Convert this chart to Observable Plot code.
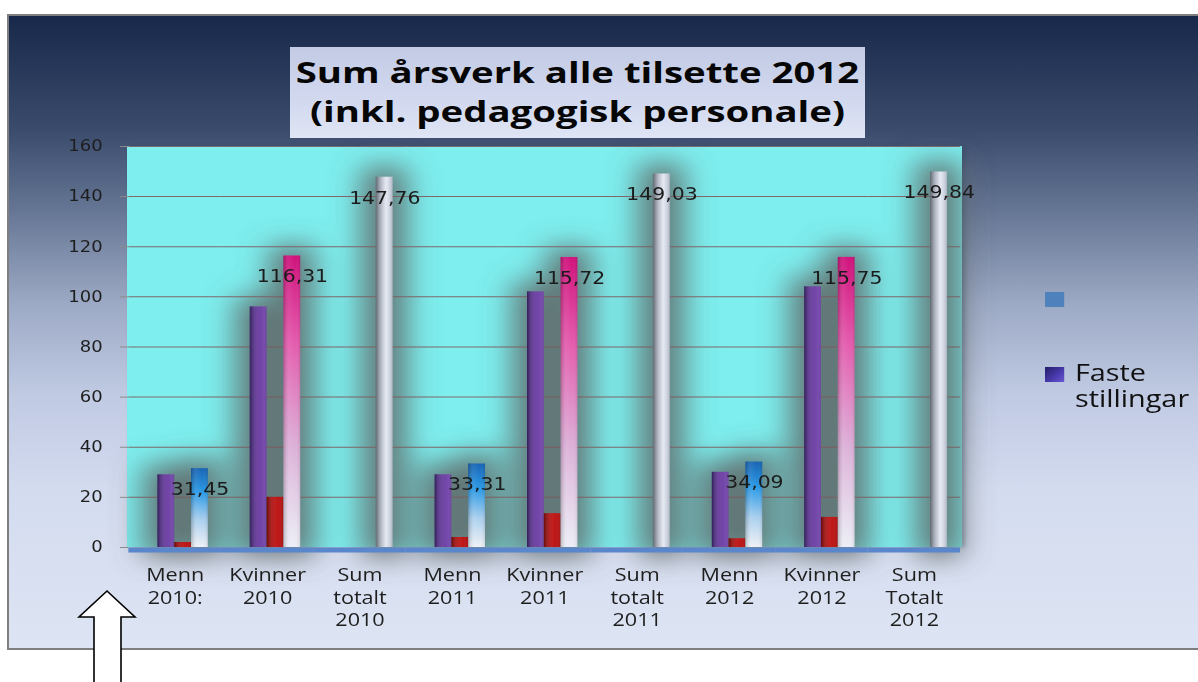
<!DOCTYPE html>
<html>
<head>
<meta charset="utf-8">
<script src="https://cdn.jsdelivr.net/npm/d3@7"></script>
<script src="https://cdn.jsdelivr.net/npm/@observablehq/plot@0.6"></script>
<style>
  html, body { margin: 0; padding: 0; background: #ffffff; width: 1198px; height: 682px; overflow: hidden; }
  #frame { position: absolute; left: 7px; top: 14px; width: 1200px; height: 632px;
    border: 2px solid #7f7f7f;
    background: linear-gradient(to bottom, #17284a 0%, #3a4b6c 18%, #6a7a98 32%, #9eabc6 46%, #c0cae3 60%, #d3dbef 75%, #dde4f3 100%); }
  #plotbg { position: absolute; left: 127px; top: 146px; width: 835px; height: 401px; background: #7eeeee;
    box-shadow: 3px 0 4px rgba(40,60,90,0.35); }
  .stretch { transform: scaleX(1.2); transform-origin: 0 0; }
  #titlebox { position: absolute; left: 290px; top: 47px; width: 575px; height: 91px;
    background: linear-gradient(to bottom, #c3cbe5 0%, #d2d9ef 60%, #dfe5f4 100%); }
  #title { position: absolute; left: 290px; top: 53px; width: 420px;
    transform: scaleX(1.369); transform-origin: 0 0;
    font-family: "Open Sans", sans-serif; font-weight: 700; font-size: 28px; line-height: 38.5px;
    color: #060606; text-align: center; white-space: nowrap; }
  #chart { position: absolute; left: 0; top: 0; }
  #legend { position: absolute; left: 1045px; top: 285px; font-family: "Open Sans", sans-serif; font-size: 24px; color: #111; }
  .lg { position: absolute; left: 0; white-space: nowrap; }
  .sw { position: absolute; left: 0; width: 16px; height: 15px; }
  .lt { position: absolute; left: 25px; top: -1px; width: 110px; white-space: normal; line-height: 26px; }
  #arrow { position: absolute; left: 0; top: 0; }
</style>
</head>
<body>
<div id="frame"></div>
<div id="plotbg"></div>
<svg width="0" height="0" style="position:absolute">
  <defs>
    <linearGradient id="gPurple" x1="0" x2="1" y1="0" y2="0">
      <stop offset="0" stop-color="#3f2472"/>
      <stop offset="0.45" stop-color="#6a3e9f"/>
      <stop offset="1" stop-color="#7c4fb4"/>
    </linearGradient>
    <linearGradient id="gRed" x1="0" x2="1" y1="0" y2="0">
      <stop offset="0" stop-color="#860c0c"/>
      <stop offset="0.5" stop-color="#c01818"/>
      <stop offset="1" stop-color="#b81616"/>
    </linearGradient>
    <linearGradient id="gBlue" x1="0" x2="0" y1="0" y2="1">
      <stop offset="0" stop-color="#1864b4"/>
      <stop offset="0.3" stop-color="#2a9ae6"/>
      <stop offset="0.65" stop-color="#a9cfee"/>
      <stop offset="1" stop-color="#eef1f6"/>
    </linearGradient>
    <linearGradient id="gPink" x1="0" x2="0" y1="0" y2="1">
      <stop offset="0" stop-color="#d0127c"/>
      <stop offset="0.3" stop-color="#e45cae"/>
      <stop offset="0.65" stop-color="#dcb0d8"/>
      <stop offset="1" stop-color="#eceef6"/>
    </linearGradient>
    <linearGradient id="gGray" x1="0" x2="1" y1="0" y2="0">
      <stop offset="0" stop-color="#7b828c"/>
      <stop offset="0.3" stop-color="#aeb5c2"/>
      <stop offset="0.6" stop-color="#e6eaf3"/>
      <stop offset="1" stop-color="#bfc7d6"/>
    </linearGradient>
    <linearGradient id="gShade" x1="0" x2="1" y1="0" y2="0">
      <stop offset="0" stop-color="#000" stop-opacity="0.22"/>
      <stop offset="0.35" stop-color="#fff" stop-opacity="0.06"/>
      <stop offset="0.7" stop-color="#fff" stop-opacity="0"/>
      <stop offset="1" stop-color="#000" stop-opacity="0.10"/>
    </linearGradient>
    <filter id="halo" filterUnits="userSpaceOnUse" x="-300" y="-300" width="2000" height="1400">
      <feMorphology in="SourceAlpha" operator="dilate" radius="12 10" result="d"/>
      <feGaussianBlur in="d" stdDeviation="13" result="b"/>
      <feFlood flood-color="#5f6868" flood-opacity="0.88"/>
      <feComposite in2="b" operator="in"/>
    </filter>
  </defs>
</svg>
<div id="chart" class="stretch"></div>
<div id="titlebox"></div>
<div id="title">Sum årsverk alle tilsette 2012<br>(inkl. pedagogisk personale)</div>
<div id="legend" class="stretch"></div>
<svg id="arrow" width="1198" height="682">
  <polygon points="107,591 135,617 121,617 121,690 94,690 94,617 79,617" fill="#ffffff" stroke="#000" stroke-width="1.6"/>
</svg>
<script>
// ---- data ----
const categories = ["Menn 2010:", "Kvinner 2010", "Sum totalt 2010", "Menn 2011", "Kvinner 2011", "Sum totalt 2011", "Menn 2012", "Kvinner 2012", "Sum Totalt 2012"];
const categoryLabels = ["Menn\n2010:", "Kvinner\n2010", "Sum\ntotalt\n2010", "Menn\n2011", "Kvinner\n2011", "Sum\ntotalt\n2011", "Menn\n2012", "Kvinner\n2012", "Sum\nTotalt\n2012"];
const seriesNames = ["Serie 1", "Faste stillingar", "Serie 3", "Serie 4"];
const serie1 = [0, 0, 0, 0, 0, 0, 0, 0, 0];
const faste = [29, 96, 0, 29, 102, 0, 30, 104, 0];
const serie3 = [2, 20, 0, 4, 13.5, 0, 3.5, 12, 0];
const serie4 = [31.45, 116.31, 147.76, 33.31, 115.72, 149.03, 34.09, 115.75, 149.84];
const yTicks = [0, 20, 40, 60, 80, 100, 120, 140, 160];
const legendNames = ["", "Faste stillingar"];
const legendColors = ["#4f81bd", "linear-gradient(135deg,#241c66,#4a3cb0 60%,#6a58d0)"];

const S = 1.2; // horizontal stretch of the whole picture
const seriesValues = [serie1, faste, serie3, serie4];
const rows = categories.flatMap((c, i) => seriesValues.map((vals, j) => ({
  category: c, series: seriesNames[j], value: vals[i], group: c.split(" ")[0]
})));
const nz = rows.filter(d => d.value > 0);
const totals = nz.filter(d => d.series === "Serie 4");
const fmt = v => v.toFixed(2).replace(".", ",");
const common = {fx: "category", x: "series", y: "value"};

const W = 1198 / S;
const chart = Plot.plot({
  width: W, height: 682,
  marginLeft: 127 / S, marginRight: W - 962 / S, marginTop: 146, marginBottom: 135,
  style: {background: "transparent", overflow: "visible"},
  fx: {domain: categories, padding: 0},
  x: {domain: seriesNames, paddingInner: 0, paddingOuter: 0.73, axis: null},
  y: {domain: [0, 160]},
  marks: [
    Plot.barY(nz, {...common, fill: "#010101"}),
    Plot.gridY(yTicks.filter(t => t > 0), {stroke: "#7e5a5c", strokeOpacity: 0.9, strokeWidth: 1}),
    Plot.barY(nz.filter(d => d.series === "Faste stillingar"), {...common, fill: "url(#gPurple)"}),
    Plot.barY(nz.filter(d => d.series === "Serie 3"), {...common, fill: "url(#gRed)"}),
    Plot.barY(totals.filter(d => d.group === "Menn"), {...common, fill: "url(#gBlue)"}),
    Plot.barY(totals.filter(d => d.group === "Kvinner"), {...common, fill: "url(#gPink)"}),
    Plot.barY(totals.filter(d => d.group === "Sum"), {...common, fill: "url(#gGray)"}),
    Plot.barY(nz, {...common, fill: "url(#gShade)"}),
    Plot.ruleY([0], {stroke: "#5a86cc", strokeWidth: 5, dy: 2.5}),
    Plot.text(totals, {...common, text: d => fmt(d.value), dy: 21, fontSize: 17, fontFamily: "DejaVu Sans", fill: "#1b1b1b"}),
    Plot.axisY({ticks: yTicks, tickSize: 7, tickPadding: 15, fontSize: 15, fontFamily: "DejaVu Sans", fill: "#1e1e1e", stroke: "#8a8a8a", label: null}),
    Plot.axisFx({anchor: "bottom", tickSize: 0, tickPadding: 17, fontSize: 18, fontFamily: "Open Sans", lineHeight: 1.27, fill: "#1e1e1e",
      tickFormat: c => categoryLabels[categories.indexOf(c)], label: null})
  ]
});
document.getElementById("chart").appendChild(chart);

// move the blurred halos into one layer beneath every facet, so neighbours don't paint over them
const svg = d3.select(chart);
const haloLayer = svg.insert("g", ":first-child").attr("filter", "url(#halo)");
svg.selectAll('g[fill="#010101"]').each(function() {
  const parent = this.parentNode;
  const holder = haloLayer.append("g").attr("transform", parent.getAttribute("transform"));
  holder.node().appendChild(this);
});

// legend
const lg = d3.select("#legend");
legendNames.forEach((name, i) => {
  const item = lg.append("div").attr("class", "lg").style("top", (i * 75) + "px");
  item.append("div").attr("class", "sw").style("top", "7px").style("background", legendColors[i]);
  item.append("div").attr("class", "lt").text(name);
});
</script>
</body>
</html>
